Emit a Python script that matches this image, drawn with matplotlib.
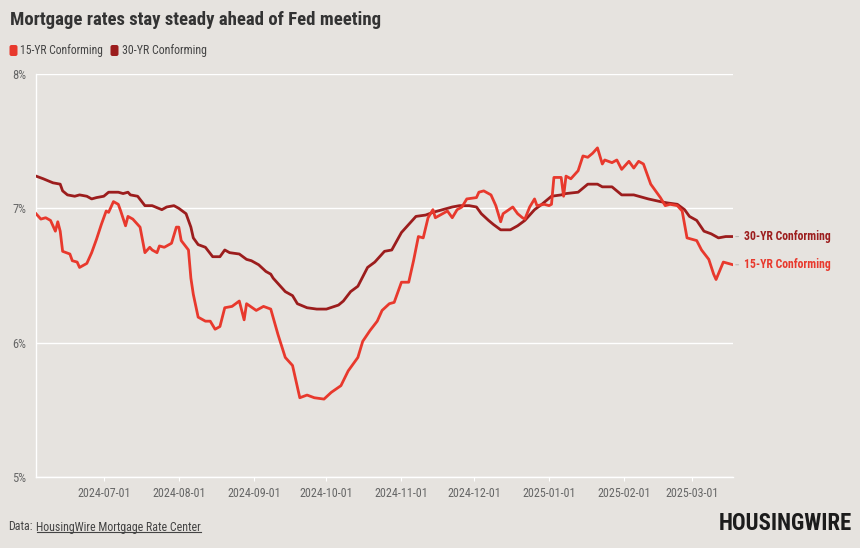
import matplotlib
matplotlib.use('Agg')
import matplotlib.pyplot as plt
import matplotlib.dates as mdates
from matplotlib import font_manager as fm
from matplotlib.patches import FancyBboxPatch
from matplotlib.lines import Line2D
import pandas as pd

# 30-year conforming rate (%)
dates_30 = ["2024-06-03", "2024-06-06", "2024-06-10", "2024-06-13", "2024-06-14", "2024-06-16",
            "2024-06-19", "2024-06-21", "2024-06-24", "2024-06-26", "2024-06-28", "2024-07-01",
            "2024-07-03", "2024-07-07", "2024-07-09", "2024-07-11", "2024-07-12", "2024-07-15",
            "2024-07-18", "2024-07-21", "2024-07-25", "2024-07-27", "2024-07-30", "2024-08-01",
            "2024-08-04", "2024-08-06", "2024-08-07", "2024-08-09", "2024-08-12", "2024-08-15",
            "2024-08-18", "2024-08-20", "2024-08-22", "2024-08-26", "2024-08-29", "2024-08-31",
            "2024-09-03", "2024-09-06", "2024-09-08", "2024-09-09", "2024-09-14", "2024-09-17",
            "2024-09-19", "2024-09-23", "2024-09-27", "2024-10-01", "2024-10-06", "2024-10-08",
            "2024-10-11", "2024-10-14", "2024-10-18", "2024-10-21", "2024-10-25", "2024-10-28",
            "2024-11-01", "2024-11-03", "2024-11-07", "2024-11-11", "2024-11-14", "2024-11-18",
            "2024-11-22", "2024-11-25", "2024-11-29", "2024-12-02", "2024-12-04", "2024-12-07",
            "2024-12-09", "2024-12-12", "2024-12-16", "2024-12-19", "2024-12-22", "2024-12-26",
            "2024-12-29", "2024-12-31", "2025-01-02", "2025-01-06", "2025-01-08", "2025-01-13",
            "2025-01-17", "2025-01-21", "2025-01-23", "2025-01-27", "2025-01-31", "2025-02-05",
            "2025-02-11", "2025-02-16", "2025-02-19", "2025-02-23", "2025-02-26", "2025-02-28",
            "2025-03-03", "2025-03-06", "2025-03-09", "2025-03-12", "2025-03-15", "2025-03-18"]
rates_30 = [7.24, 7.22, 7.19, 7.18, 7.13, 7.10, 7.09, 7.10, 7.09, 7.07,
            7.08, 7.09, 7.12, 7.12, 7.11, 7.12, 7.10, 7.09, 7.02, 7.02,
            6.99, 7.01, 7.02, 7.00, 6.96, 6.86, 6.78, 6.73, 6.71, 6.64,
            6.64, 6.69, 6.67, 6.66, 6.62, 6.61, 6.58, 6.53, 6.51, 6.48,
            6.38, 6.35, 6.29, 6.26, 6.25, 6.25, 6.28, 6.31, 6.38, 6.42,
            6.56, 6.60, 6.68, 6.69, 6.82, 6.86, 6.94, 6.95, 6.97, 6.99,
            7.01, 7.02, 7.02, 7.01, 6.96, 6.91, 6.88, 6.84, 6.84, 6.87,
            6.91, 6.99, 7.03, 7.06, 7.09, 7.10, 7.11, 7.12, 7.18, 7.18,
            7.16, 7.16, 7.10, 7.10, 7.07, 7.05, 7.04, 7.03, 6.99, 6.94,
            6.91, 6.83, 6.81, 6.78, 6.79, 6.79]

# 15-year conforming rate (%)
dates_15 = ["2024-06-03", "2024-06-05", "2024-06-07", "2024-06-09", "2024-06-11", "2024-06-12",
            "2024-06-13", "2024-06-14", "2024-06-17", "2024-06-18", "2024-06-20", "2024-06-21",
            "2024-06-24", "2024-06-26", "2024-06-28", "2024-06-30", "2024-07-02", "2024-07-03",
            "2024-07-05", "2024-07-07", "2024-07-08", "2024-07-10", "2024-07-11", "2024-07-13",
            "2024-07-16", "2024-07-18", "2024-07-20", "2024-07-21", "2024-07-23", "2024-07-24",
            "2024-07-26", "2024-07-29", "2024-07-31", "2024-08-01", "2024-08-02", "2024-08-05",
            "2024-08-06", "2024-08-07", "2024-08-09", "2024-08-12", "2024-08-14", "2024-08-16",
            "2024-08-18", "2024-08-20", "2024-08-23", "2024-08-26", "2024-08-28", "2024-08-29",
            "2024-09-02", "2024-09-05", "2024-09-08", "2024-09-11", "2024-09-14", "2024-09-17",
            "2024-09-20", "2024-09-23", "2024-09-26", "2024-09-30", "2024-10-03", "2024-10-07",
            "2024-10-10", "2024-10-14", "2024-10-16", "2024-10-19", "2024-10-22", "2024-10-24",
            "2024-10-27", "2024-10-29", "2024-11-01", "2024-11-04", "2024-11-06", "2024-11-08",
            "2024-11-10", "2024-11-12", "2024-11-14", "2024-11-15", "2024-11-18", "2024-11-20",
            "2024-11-22", "2024-11-24", "2024-11-26", "2024-11-28", "2024-12-02", "2024-12-03",
            "2024-12-05", "2024-12-06", "2024-12-08", "2024-12-10", "2024-12-12", "2024-12-13",
            "2024-12-17", "2024-12-19", "2024-12-21", "2024-12-22", "2024-12-24", "2024-12-26",
            "2024-12-27", "2024-12-30", "2025-01-01", "2025-01-02", "2025-01-03", "2025-01-06",
            "2025-01-07", "2025-01-08", "2025-01-10", "2025-01-13", "2025-01-15", "2025-01-17",
            "2025-01-19", "2025-01-21", "2025-01-23", "2025-01-24", "2025-01-27", "2025-01-29",
            "2025-01-31", "2025-02-02", "2025-02-03", "2025-02-05", "2025-02-07", "2025-02-09",
            "2025-02-12", "2025-02-16", "2025-02-18", "2025-02-20", "2025-02-23", "2025-02-25",
            "2025-02-27", "2025-03-03", "2025-03-05", "2025-03-08", "2025-03-10", "2025-03-11",
            "2025-03-14", "2025-03-16", "2025-03-18"]
rates_15 = [6.96, 6.92, 6.93, 6.91, 6.83, 6.90, 6.83, 6.68, 6.66, 6.61,
            6.60, 6.56, 6.59, 6.67, 6.77, 6.88, 6.98, 6.97, 7.05, 7.03,
            6.98, 6.87, 6.94, 6.92, 6.86, 6.67, 6.71, 6.69, 6.67, 6.72,
            6.71, 6.74, 6.86, 6.86, 6.76, 6.69, 6.48, 6.36, 6.19, 6.16,
            6.16, 6.10, 6.12, 6.26, 6.27, 6.31, 6.17, 6.29, 6.24, 6.27,
            6.25, 6.06, 5.89, 5.83, 5.59, 5.61, 5.59, 5.58, 5.63, 5.68,
            5.79, 5.89, 6.01, 6.09, 6.16, 6.24, 6.29, 6.30, 6.45, 6.45,
            6.61, 6.79, 6.78, 6.93, 6.99, 6.93, 6.96, 6.98, 6.93, 6.99,
            7.01, 7.07, 7.08, 7.12, 7.13, 7.12, 7.10, 7.02, 6.90, 6.96,
            7.01, 6.96, 6.93, 6.92, 7.01, 7.07, 7.02, 7.03, 7.02, 7.03,
            7.23, 7.23, 7.09, 7.24, 7.22, 7.28, 7.39, 7.38, 7.41, 7.45,
            7.33, 7.36, 7.34, 7.36, 7.29, 7.33, 7.35, 7.30, 7.35, 7.33,
            7.18, 7.08, 7.02, 7.03, 7.02, 6.98, 6.78, 6.76, 6.69, 6.62,
            6.51, 6.47, 6.60, 6.59, 6.58]

y_ticks = [5, 6, 7, 8]
x_ticks = ["2024-07-01", "2024-08-01", "2024-09-01", "2024-10-01", "2024-11-01",
           "2024-12-01", "2025-01-01", "2025-02-01", "2025-03-01"]

d30 = pd.to_datetime(dates_30)
d15 = pd.to_datetime(dates_15)

bg = '#e6e3df'
c15 = '#e8392d'
c30 = '#9c1d1d'

avail = {f.name for f in fm.fontManager.ttflist}
cond = next((f for f in ['Roboto Condensed', 'Liberation Sans Narrow', 'Roboto'] if f in avail), 'DejaVu Sans')
plt.rcParams['font.family'] = cond

fig = plt.figure(figsize=(8.6, 5.48), dpi=100, facecolor=bg)
renderer = fig.canvas.get_renderer()


def size_for(s, width_px, weight='normal'):
    t = fig.text(0, 0, s, fontsize=10, fontweight=weight)
    w = t.get_window_extent(renderer).width
    t.remove()
    return 10 * width_px / w


W, H = 860, 548
ax = fig.add_axes([36 / W, 71 / H, (733 - 36) / W, (477 - 74) / H])
ax.set_facecolor(bg)

ax.plot(d30, rates_30, color=c30, lw=2, solid_joinstyle='round', zorder=3)
ax.plot(d15, rates_15, color=c15, lw=2, solid_joinstyle='round', zorder=4)

ax.set_ylim(5, 8)
ax.set_xlim(pd.Timestamp("2024-06-03"), pd.Timestamp("2025-03-18"))
ax.set_yticks(y_ticks)
ax.set_yticklabels([f"{v}%" for v in y_ticks])
ax.set_xticks(pd.to_datetime(x_ticks))
ax.xaxis.set_major_formatter(mdates.DateFormatter('%Y-%m-%d'))

ax.grid(axis='y', color='white', lw=1)
ax.set_axisbelow(True)
for s in ['top', 'right']:
    ax.spines[s].set_visible(False)
for s in ['left', 'bottom']:
    ax.spines[s].set_color('white')
    ax.spines[s].set_linewidth(1)

xs = size_for("2024-07-01", 53)
ys = size_for("8%", 14)
ax.tick_params(axis='x', colors='white', length=3, pad=4, labelsize=xs, labelcolor='#666666')
ax.tick_params(axis='y', length=0, pad=7, labelsize=ys, labelcolor='#666666')

# end labels
for d, r, lab, col in [(d30[-1], rates_30[-1], "30-YR Conforming", c30),
                       (d15[-1], rates_15[-1], "15-YR Conforming", c15)]:
    ax.annotate(lab, xy=(d, r), xytext=(8, 0), textcoords='offset points',
                va='center', ha='left', color=col, fontweight='bold',
                fontsize=size_for(lab, 87, 'bold'), annotation_clip=False,
                arrowprops=dict(arrowstyle='-', color='#bdbab6', lw=0.8, shrinkA=2, shrinkB=2))

# title
fig.text(10 / W, 1 - 20 / H, "Mortgage rates stay steady ahead of Fed meeting",
         fontsize=size_for("Mortgage rates stay steady ahead of Fed meeting", 372, 'bold'),
         fontweight='bold', color='#333333', va='center', ha='left')

# legend
for x0, col, lab, tw in [(9.5, c15, "15-YR Conforming", 83), (110.5, c30, "30-YR Conforming", 85)]:
    fig.add_artist(FancyBboxPatch((x0 / 100, (H - 56) / 100), 0.08, 0.11,
                                  boxstyle='round,pad=0,rounding_size=0.02',
                                  transform=fig.dpi_scale_trans, fc=col, ec='none'))
    fig.text((x0 + 11) / W, 1 - 50 / H, lab, fontsize=size_for(lab, tw),
             color='#444444', va='center', ha='left')

# footer
fs = size_for("HousingWire Mortgage Rate Center", 164)
fig.text(8 / W, 1 - 527 / H, "Data:", fontsize=fs, color='#444444', va='center', ha='left')
src = fig.text(36.5 / W, 1 - 527 / H, "HousingWire Mortgage Rate Center", fontsize=fs,
               color='#444444', va='center', ha='left')
bb = src.get_window_extent(renderer)
fig.add_artist(Line2D([bb.x0 / W, bb.x1 / W], [(bb.y0 + 1.5) / H, (bb.y0 + 1.5) / H],
                      transform=fig.transFigure, color='#444444', lw=0.8))

fig.text(852 / W, 1 - 523 / H, "HOUSINGWIRE", fontsize=size_for("HOUSINGWIRE", 132, 'heavy'),
         fontweight='heavy', color='#1c1c1c', va='center', ha='right')

fig.savefig('out.png', dpi=100, facecolor=bg)
